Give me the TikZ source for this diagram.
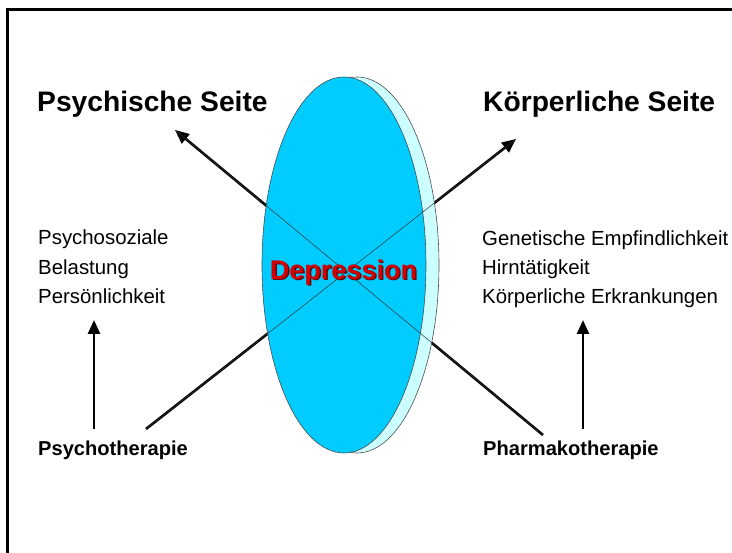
\documentclass[tikz,border=0pt]{standalone}
\usepackage{fontspec}
\setmainfont{Liberation Sans}
\usetikzlibrary{arrows.meta}
\definecolor{frontblue}{RGB}{0,204,255}
\definecolor{backcyan}{RGB}{204,255,255}
\definecolor{deprred}{RGB}{210,0,0}
\definecolor{deprshadow}{RGB}{110,0,0}
\tikzset{
  heading/.style={anchor=base west,inner sep=0pt,font=\bfseries\fontsize{28.2}{30}\selectfont},
  item/.style={anchor=base west,inner sep=0pt,font=\fontsize{20.4}{24}\selectfont},
  therapy/.style={anchor=base west,inner sep=0pt,font=\bfseries\fontsize{20.1}{22}\selectfont},
  thickarrow/.style={line width=2.6pt,-{Triangle[length=14pt,width=12pt]}},
  thinline/.style={line width=0.5pt,draw=black!80},
  disc/.style={draw=black!70,line width=0.6pt},
  deprfont/.style={font=\bfseries\fontsize{27}{30}\selectfont}
}
\begin{document}
\begin{tikzpicture}[x=1pt,y=-1pt]
\useasboundingbox (0,0) rectangle (732,553);
\fill[white] (0,0) rectangle (732,553);
% frame
\draw[line width=3pt] (7,553) -- (7,10) -- (732,10);

% text nodes
\node[heading] (psy) at (37,112) {Psychische Seite};
\node[heading] (koe) at (483,112) {Körperliche Seite};
\node[item] (l1) at (38,245) {Psychosoziale};
\node[item] (l2) at (38,275) {Belastung};
\node[item] (l3) at (38,304) {Persönlichkeit};
\node[item] (r1) at (482,246) {Genetische Empfindlichkeit};
\node[item] (r2) at (482,275) {Hirntätigkeit};
\node[item] (r3) at (482,304) {Körperliche Erkrankungen};
\node[therapy] (pt) at (38,456) {Psychotherapie};
\node[therapy] (pk) at (483,456) {Pharmakotherapie};

% connector end points
\coordinate (ptstart) at (146,429);
\coordinate (pkstart) at (543,435);
\coordinate (tipL) at (175,130);
\coordinate (tipR) at (516,139);
\coordinate (vLbot) at (94,429);
\coordinate (vLtop) at (94,320);
\coordinate (vRbot) at (583,429);
\coordinate (vRtop) at (583,320);

% thick arrows
\draw[thickarrow] (pkstart) -- (tipL);
\draw[thickarrow] (ptstart) -- (tipR);
\draw[thickarrow] (vLbot) -- (vLtop);
\draw[thickarrow] (vRbot) -- (vRtop);

% disc
\draw[disc,fill=backcyan] (357,265) ellipse [x radius=82,y radius=188];
\draw[disc,fill=frontblue] (344,265) ellipse [x radius=82,y radius=188];

% thin lines seen through the disc
\draw[thinline] (pkstart) -- (tipL);
\draw[thinline] (ptstart) -- (tipR);

% title
\node[anchor=base,inner sep=0pt,text=deprshadow,deprfont] at (344.8,280.8) {Depression};
\node[anchor=base,inner sep=0pt,text=deprred,deprfont] (dep) at (343.5,280) {Depression};
\end{tikzpicture}
\end{document}
